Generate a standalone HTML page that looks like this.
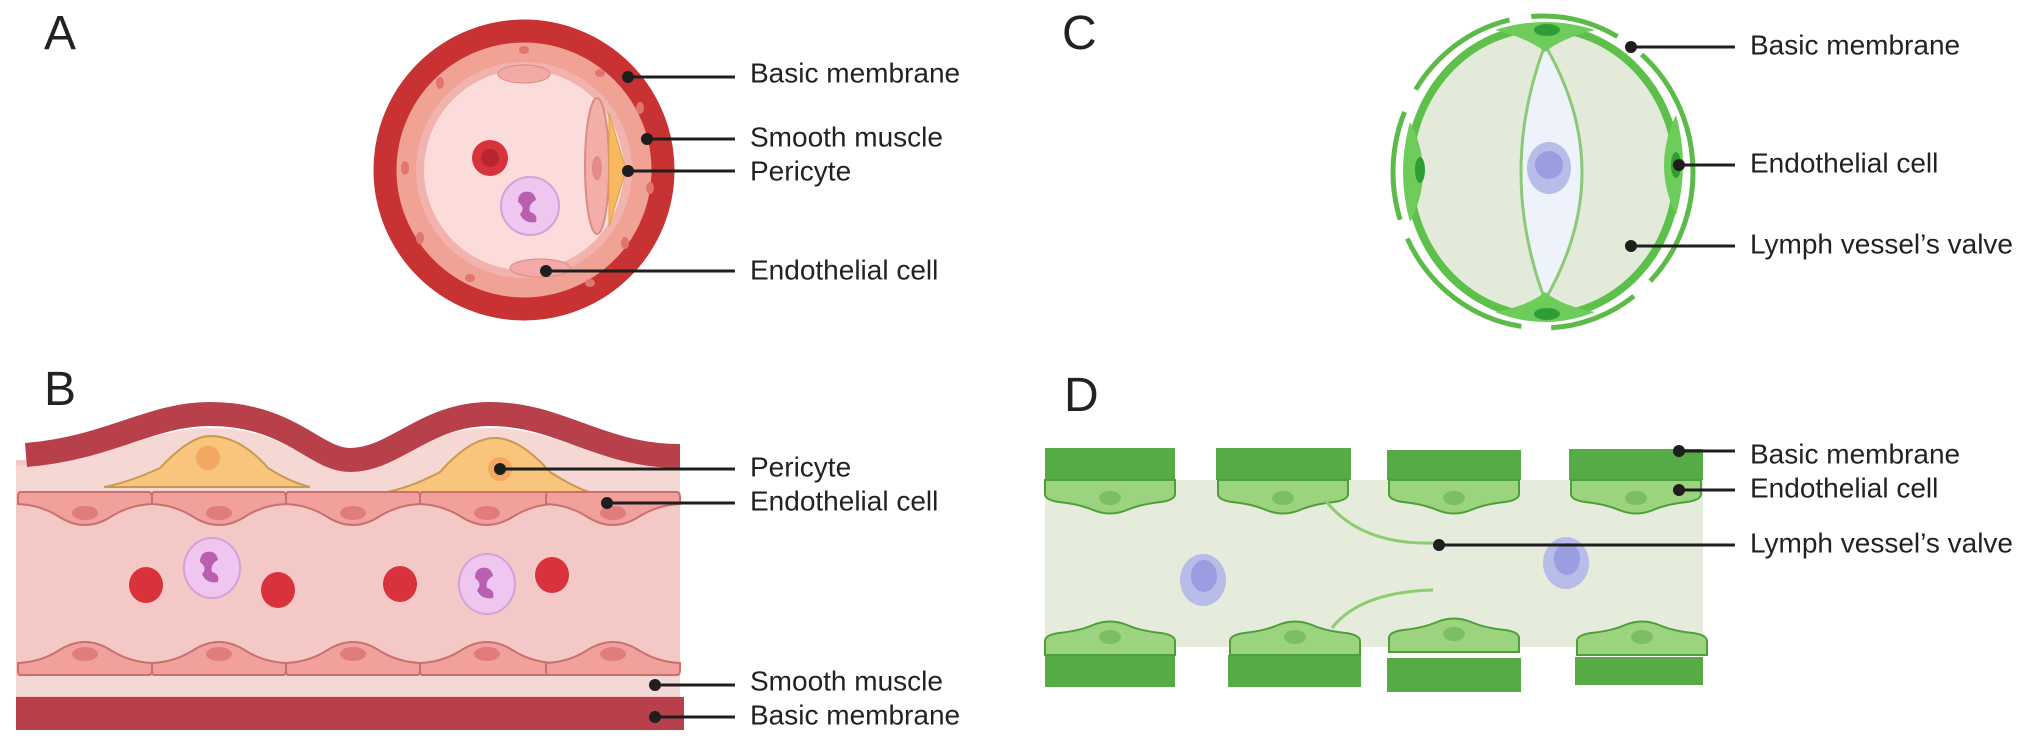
<!DOCTYPE html>
<html><head><meta charset="utf-8"><style>
html,body{margin:0;padding:0;background:#fff;}
svg{display:block;}
text{font-family:"Liberation Sans",Arial,sans-serif;fill:#222;}
.lbl{font-size:28px;dominant-baseline:middle;}
.let{font-size:48px;}
.ln{stroke:#1e1e1e;stroke-width:3;}
</style></head><body>
<svg width="2032" height="742" viewBox="0 0 2032 742" xmlns="http://www.w3.org/2000/svg">
<defs>
  <g id="rtop">
    <path d="M2,0 H131 Q134,0 134,6 V12 Q112,13 94,24 Q67,42 40,24 Q22,13 0,12 V6 Q0,0 2,0 Z" fill="#f2a09c" stroke="#c9706e" stroke-width="2"/>
    <ellipse cx="67" cy="21" rx="13" ry="7" fill="#e07c7c"/>
  </g>
  <g id="gtop">
    <path d="M0,0 H130 V14 Q130,20 116,22 Q96,24 82,30 Q65,37 48,30 Q34,24 14,22 Q0,20 0,14 Z" fill="#9bd37f" stroke="#4e9e3a" stroke-width="2"/>
    <ellipse cx="65" cy="18" rx="11" ry="7" fill="#7cbf62"/>
  </g>
</defs>

<!-- Panel A -->
<text class="let" x="44" y="49">A</text>
<circle cx="524" cy="170" r="139" fill="#f0a294" stroke="#c83232" stroke-width="23"/>
<g fill="#e27470">
  <ellipse cx="524" cy="50" rx="5" ry="4"/><ellipse cx="440" cy="83" rx="4" ry="6"/><ellipse cx="405" cy="168" rx="4" ry="7"/>
  <ellipse cx="420" cy="238" rx="4" ry="6"/><ellipse cx="470" cy="278" rx="5" ry="4"/><ellipse cx="590" cy="283" rx="5" ry="4"/>
  <ellipse cx="625" cy="243" rx="4" ry="6"/><ellipse cx="640" cy="108" rx="4" ry="6"/><ellipse cx="600" cy="73" rx="5" ry="4"/>
  <ellipse cx="650" cy="188" rx="4" ry="6"/>
</g>
<circle cx="524" cy="170" r="104" fill="#fbdcdb" stroke="#f2b2ae" stroke-width="8"/>
<ellipse cx="524" cy="74" rx="26" ry="9" fill="#f3aaa6" stroke="#d88c88"/>
<ellipse cx="540" cy="268" rx="30" ry="9" fill="#f3aaa6" stroke="#d88c88"/>
<ellipse cx="597" cy="166" rx="12" ry="68" fill="#f4aeaa" stroke="#d88c88" stroke-width="2"/>
<ellipse cx="597" cy="168" rx="5" ry="12" fill="#e58a86"/>
<path d="M609,113 L626,170 L609,226 Z" fill="#f8b860" stroke="#e0a040"/>
<circle cx="490" cy="158" r="18" fill="#d8323c"/><circle cx="490" cy="158" r="9" fill="#b82430"/>
<circle cx="530" cy="206" r="29" fill="#efc6ef" stroke="#d8a0d8" stroke-width="2"/>
<path d="M524,192 q10,-2 12,8 q-8,4 -6,12 q8,2 6,10 q-12,2 -16,-8 q6,-6 -2,-12 q0,-8 6,-10z" fill="#b85fb0"/>
<line class="ln" x1="628" y1="77" x2="735" y2="77"/><circle cx="628" cy="77" r="6" fill="#1e1e1e"/>
<line class="ln" x1="647" y1="139" x2="735" y2="139"/><circle cx="647" cy="139" r="6" fill="#1e1e1e"/>
<line class="ln" x1="628" y1="171" x2="735" y2="171"/><circle cx="628" cy="171" r="6" fill="#1e1e1e"/>
<line class="ln" x1="546" y1="271" x2="735" y2="271"/><circle cx="546" cy="271" r="6" fill="#1e1e1e"/>
<text class="lbl" x="750" y="75">Basic membrane</text>
<text class="lbl" x="750" y="139">Smooth muscle</text>
<text class="lbl" x="750" y="173">Pericyte</text>
<text class="lbl" x="750" y="272">Endothelial cell</text>

<!-- Panel B -->
<text class="let" x="44" y="405">B</text>
<rect x="16" y="460" width="664" height="240" fill="#f3c8c6"/>
<path d="M16,466 C110,460 150,428 210,428 C290,428 310,472 350,472 C395,472 420,428 490,428 C560,428 600,468 680,468 L680,492 L16,492 Z" fill="#f5d8d4"/>
<path d="M104,487 Q130,482 160,468 Q190,436 210,436 Q240,436 268,468 Q290,482 310,487 Z" fill="#f9c47c" stroke="#c89a50" stroke-width="2"/>
<circle cx="208" cy="458" r="12" fill="#f2a860"/>
<path d="M382,493 Q410,488 440,472 Q470,438 495,438 Q520,438 550,472 Q575,488 592,493 Z" fill="#f9c47c" stroke="#c89a50" stroke-width="2"/>
<circle cx="500" cy="469" r="12" fill="#f2a860"/>
<path d="M26,455 C110,448 150,414 210,414 C290,414 315,460 350,460 C395,460 425,414 490,414 C560,414 600,456 680,456" fill="none" stroke="#b8404a" stroke-width="24"/>
<use href="#rtop" x="18" y="492"/><use href="#rtop" x="152" y="492"/><use href="#rtop" x="286" y="492"/><use href="#rtop" x="420" y="492"/><use href="#rtop" x="546" y="492"/>
<g transform="translate(0,1167) scale(1,-1)">
<use href="#rtop" x="18" y="492"/><use href="#rtop" x="152" y="492"/><use href="#rtop" x="286" y="492"/><use href="#rtop" x="420" y="492"/><use href="#rtop" x="546" y="492"/>
</g>
<rect x="16" y="676" width="664" height="20" fill="#f4d8d6"/>
<rect x="16" y="697" width="668" height="33" fill="#b8404a"/>
<g fill="#d8323c">
<ellipse cx="146" cy="585" rx="17" ry="18"/><ellipse cx="278" cy="590" rx="17" ry="18"/><ellipse cx="400" cy="584" rx="17" ry="18"/><ellipse cx="552" cy="575" rx="17" ry="18"/>
</g>
<g fill="#efc6ef" stroke="#d8a0d8" stroke-width="2">
<ellipse cx="212" cy="568" rx="28" ry="30"/><ellipse cx="487" cy="584" rx="28" ry="30"/>
</g>
<g fill="#b85fb0">
<path d="M206,552 q10,-2 12,8 q-8,4 -6,12 q8,2 6,10 q-12,2 -16,-8 q6,-6 -2,-12 q0,-8 6,-10z"/>
<path d="M481,568 q10,-2 12,8 q-8,4 -6,12 q8,2 6,10 q-12,2 -16,-8 q6,-6 -2,-12 q0,-8 6,-10z"/>
</g>
<line class="ln" x1="500" y1="469" x2="735" y2="469"/><circle cx="500" cy="469" r="6" fill="#1e1e1e"/>
<line class="ln" x1="607" y1="503" x2="735" y2="503"/><circle cx="607" cy="503" r="6" fill="#1e1e1e"/>
<line class="ln" x1="655" y1="685" x2="735" y2="685"/><circle cx="655" cy="685" r="6" fill="#1e1e1e"/>
<line class="ln" x1="655" y1="717" x2="735" y2="717"/><circle cx="655" cy="717" r="6" fill="#1e1e1e"/>
<text class="lbl" x="750" y="469">Pericyte</text>
<text class="lbl" x="750" y="503">Endothelial cell</text>
<text class="lbl" x="750" y="683">Smooth muscle</text>
<text class="lbl" x="750" y="717">Basic membrane</text>

<!-- Panel C -->
<text class="let" x="1062" y="49">C</text>
<ellipse cx="1543" cy="172" rx="150" ry="156" fill="none" stroke="#5cbb48" stroke-width="5" stroke-dasharray="120 22 90 30 150 20 110 25"/>
<ellipse cx="1543" cy="172" rx="134" ry="144" fill="#e3ead9" stroke="#5cc04a" stroke-width="8"/>
<path d="M1545,45 Q1497,172 1545,300 Q1619,172 1545,45 Z" fill="#eef2fa" stroke="#8cc878" stroke-width="3"/>
<ellipse cx="1549" cy="168" rx="22" ry="26" fill="#b8bce8"/><circle cx="1549" cy="165" r="14" fill="#9a9ee0"/>
<path d="M1495,30 Q1545,14 1595,30 Q1562,38 1545,52 Q1528,38 1495,30 Z" fill="#6dcc5a"/>
<ellipse cx="1547" cy="30" rx="13" ry="6" fill="#2e9e34"/>
<path d="M1495,312 Q1545,332 1595,312 Q1562,306 1545,292 Q1528,306 1495,312 Z" fill="#6dcc5a"/>
<ellipse cx="1547" cy="314" rx="13" ry="6" fill="#2e9e34"/>
<path d="M1410,122 Q1436,172 1410,222 Q1396,172 1410,122 Z" fill="#6dcc5a"/>
<ellipse cx="1420" cy="170" rx="5" ry="13" fill="#2e9e34"/>
<path d="M1676,115 Q1652,165 1676,215 Q1690,165 1676,115 Z" fill="#6dcc5a"/>
<ellipse cx="1676" cy="165" rx="5" ry="13" fill="#2e9e34"/>
<line class="ln" x1="1631" y1="47" x2="1735" y2="47"/><circle cx="1631" cy="47" r="6" fill="#1e1e1e"/>
<line class="ln" x1="1679" y1="165" x2="1735" y2="165"/><circle cx="1679" cy="165" r="6" fill="#1e1e1e"/>
<line class="ln" x1="1631" y1="246" x2="1735" y2="246"/><circle cx="1631" cy="246" r="6" fill="#1e1e1e"/>
<text class="lbl" x="1750" y="47">Basic membrane</text>
<text class="lbl" x="1750" y="165">Endothelial cell</text>
<text class="lbl" x="1750" y="246">Lymph vessel’s valve</text>

<!-- Panel D -->
<text class="let" x="1064" y="411">D</text>
<rect x="1045" y="480" width="658" height="167" fill="#e5ecdc"/>
<g fill="#56ac44">
<rect x="1045" y="448" width="130" height="32"/><rect x="1216" y="448" width="135" height="32"/><rect x="1387" y="450" width="134" height="30"/><rect x="1569" y="449" width="134" height="31"/>
<rect x="1045" y="655" width="130" height="32"/><rect x="1228" y="655" width="133" height="32"/><rect x="1387" y="658" width="134" height="34"/><rect x="1575" y="657" width="128" height="28"/>
</g>
<use href="#gtop" x="1045" y="480"/><use href="#gtop" x="1218" y="480"/><use href="#gtop" x="1389" y="480"/><use href="#gtop" x="1571" y="480"/>
<g transform="translate(0,1135) scale(1,-1)">
<use href="#gtop" x="1045" y="480"/><use href="#gtop" x="1230" y="480"/><use href="#gtop" x="1389" y="483"/><use href="#gtop" x="1577" y="480"/>
</g>
<path d="M1325,500 Q1360,545 1433,543" fill="none" stroke="#8ccd70" stroke-width="3"/>
<path d="M1332,628 Q1360,592 1433,590" fill="none" stroke="#8ccd70" stroke-width="3"/>
<ellipse cx="1203" cy="580" rx="23" ry="26" fill="#b8bce8"/><ellipse cx="1204" cy="576" rx="13" ry="16" fill="#9a9ee0"/>
<ellipse cx="1566" cy="563" rx="23" ry="26" fill="#b8bce8"/><ellipse cx="1567" cy="559" rx="13" ry="16" fill="#9a9ee0"/>
<line class="ln" x1="1679" y1="451" x2="1735" y2="451"/><circle cx="1679" cy="451" r="6" fill="#1e1e1e"/>
<line class="ln" x1="1679" y1="490" x2="1735" y2="490"/><circle cx="1679" cy="490" r="6" fill="#1e1e1e"/>
<line class="ln" x1="1439" y1="545" x2="1735" y2="545"/><circle cx="1439" cy="545" r="6" fill="#1e1e1e"/>
<text class="lbl" x="1750" y="456">Basic membrane</text>
<text class="lbl" x="1750" y="490">Endothelial cell</text>
<text class="lbl" x="1750" y="545">Lymph vessel’s valve</text>
</svg>
</body></html>
